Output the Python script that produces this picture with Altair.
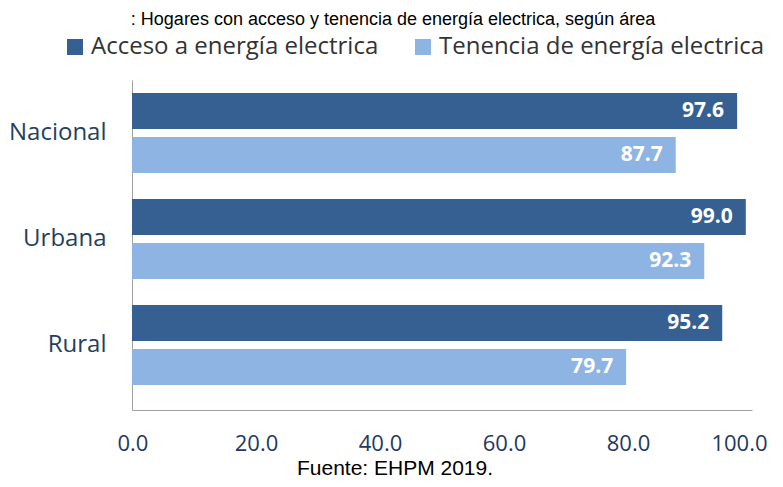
import altair as alt
import pandas as pd

areas = ["Nacional", "Urbana", "Rural"]
series = ["Acceso a energía electrica", "Tenencia de energía electrica"]
acceso = [97.6, 99.0, 95.2]
tenencia = [87.7, 92.3, 79.7]
x_ticks = [0, 20, 40, 60, 80, 100]
title_text = ": Hogares con acceso y tenencia de energía electrica, según área"
source_text = "Fuente: EHPM 2019."

colors = ["#376092", "#8EB4E3"]
FONT = "Open Sans"

rows = []
for i, a in enumerate(areas):
    rows.append({"Area": a, "Serie": series[0], "Valor": acceso[i]})
    rows.append({"Area": a, "Serie": series[1], "Valor": tenencia[i]})
df = pd.DataFrame(rows)

W, H = 620, 330

y_enc = alt.Y("Area:N", sort=areas, title=None,
              scale=alt.Scale(paddingInner=0, paddingOuter=0.0566, align=0),
              axis=alt.Axis(ticks=False, domainColor="#A0A0A0", labelFont=FONT,
                            labelFontSize=24, labelColor="#243F60", labelPadding=26))
yoff = alt.YOffset("Serie:N", sort=series,
                   scale=alt.Scale(paddingInner=0.18, paddingOuter=0.295))
x_enc = alt.X("Valor:Q", title=None,
              scale=alt.Scale(domain=[0, 100], nice=False),
              axis=alt.Axis(values=x_ticks, format=".1f", ticks=False, grid=False,
                            domainColor="#A0A0A0", labelFont=FONT, labelFontSize=22,
                            labelColor="#1F3864", labelPadding=23, labelFlush=True,
                            labelFlushOffset=15))

bars = alt.Chart(df).mark_bar().encode(
    x=x_enc, y=y_enc, yOffset=yoff,
    color=alt.Color("Serie:N", sort=series,
                    scale=alt.Scale(domain=series, range=colors),
                    legend=alt.Legend(title=None, orient="none", direction="horizontal",
                                      legendX=-69, legendY=-45, symbolType="square",
                                      symbolSize=256, symbolStrokeWidth=0,
                                      labelFont=FONT, labelFontSize=24,
                                      labelColor="#333333", labelOffset=4,
                                      columnPadding=32, labelLimit=400)),
)

labels = alt.Chart(df).mark_text(align="right", baseline="middle", dx=-13,
                                 color="white", font=FONT, fontSize=21,
                                 fontWeight="bold").encode(
    x="Valor:Q", y=alt.Y("Area:N", sort=areas), yOffset=alt.YOffset("Serie:N", sort=series),
    text=alt.Text("Valor:Q", format=".1f"),
)

tdf = pd.DataFrame({"t": [title_text]})
title = alt.Chart(tdf).mark_text(align="center", baseline="top", font="Liberation Sans",
                                 fontSize=18, color="#000000").encode(
    x=alt.value(261), y=alt.value(-69), text="t:N")

sdf = pd.DataFrame({"t": [source_text]})
source = alt.Chart(sdf).mark_text(align="center", baseline="middle", font="Liberation Sans",
                                  fontSize=21, color="#000000").encode(
    x=alt.value(263), y=alt.value(389), text="t:N")

chart = alt.layer(bars, labels, title, source).properties(
    width=W, height=H,
    autosize=alt.AutoSizeParams(type="none"),
    padding={"left": 124, "top": 72, "right": 23, "bottom": 69},
).configure_view(stroke=None)

chart.save("out.html", embed_options={"renderer": "svg", "actions": False})
